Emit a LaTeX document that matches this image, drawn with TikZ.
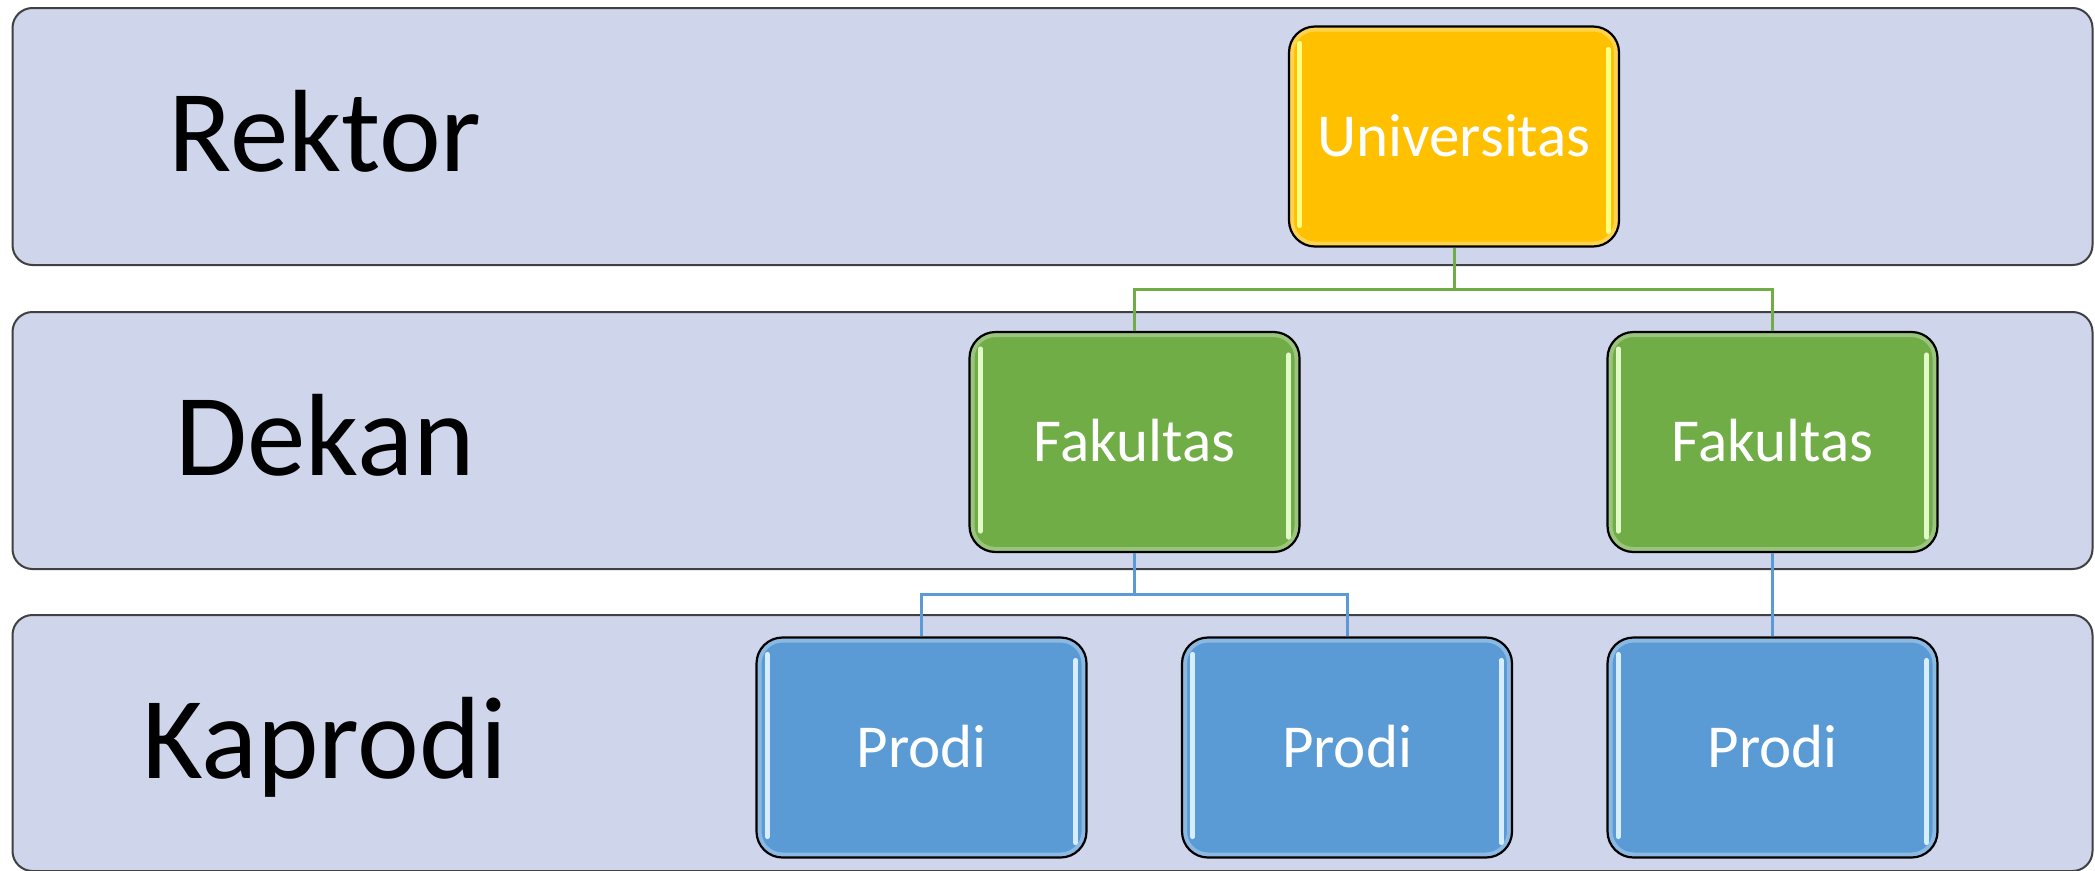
\documentclass[tikz,border=0pt]{standalone}
\usepackage{fontspec}
\setmainfont{Carlito}
\definecolor{bandfill}{HTML}{CFD5EA}
\definecolor{bandline}{HTML}{404040}
\definecolor{gold}{HTML}{FFC000}
\definecolor{leaf}{HTML}{70AD47}
\definecolor{sky}{HTML}{5B9BD5}
\definecolor{goldgloss}{HTML}{FFFF80}
\definecolor{leafgloss}{HTML}{E2FAC8}
\definecolor{skygloss}{HTML}{D6EEFF}
\tikzset{
  band/.style={draw=bandline, line width=2pt, fill=bandfill, rounded corners=20pt,
    minimum width=2080pt, minimum height=257pt, inner sep=0pt},
  unit/.style={draw=black, line width=2.2pt, rounded corners=26pt,
    minimum width=330pt, minimum height=220pt, inner sep=0pt, text=white,
    font=\fontsize{61}{72}\selectfont, text height=39pt, text depth=0pt,
    path picture={\draw[white, opacity=0.3, line width=10pt, rounded corners=26pt]
      (path picture bounding box.south west) rectangle (path picture bounding box.north east);}},
  rank/.style={font=\fontsize{117}{134}\selectfont, anchor=base, text=black, inner sep=0pt},
  gline/.style={draw=leaf, line width=3pt},
  bline/.style={draw=sky, line width=3pt},
  gloss/.style={line width=5pt, line cap=round}
}
\begin{document}
\begin{tikzpicture}[x=1pt, y=-1pt]
\useasboundingbox (0,0) rectangle (2095,870);
\fill[white] (0,0) rectangle (2095,870);
% bands
\node[band] (b1) at (1052.5,136.5) {};
\node[band] (b2) at (1052.5,440.5) {};
\node[band, minimum height=256pt] (b3) at (1052.5,743) {};
% rank labels
\node[rank] (r1) at (325,171) {Rektor};
\node[rank] (r2) at (325,475) {Dekan};
\node[rank] (r3) at (325,778) {Kaprodi};
% boxes
\node[unit, fill=gold] (u) at (1454,136.5) {Universitas};
\node[unit, fill=leaf] (f1) at (1134.5,442) {Fakultas};
\node[unit, fill=leaf] (f2) at (1772.5,442) {Fakultas};
\node[unit, fill=sky] (p1) at (921.5,747.5) {Prodi};
\node[unit, fill=sky] (p2) at (1347,747.5) {Prodi};
\node[unit, fill=sky] (p3) at (1772.5,747.5) {Prodi};
% gloss lines
\foreach \n/\c in {u/goldgloss, f1/leafgloss, f2/leafgloss, p1/skygloss, p2/skygloss, p3/skygloss} {
  \draw[gloss, draw=\c] ([xshift=12pt,yshift=-18pt]\n.north west) -- ([xshift=12pt,yshift=22pt]\n.south west);
  \draw[gloss, draw=\c] ([xshift=-12pt,yshift=-24pt]\n.north east) -- ([xshift=-12pt,yshift=16pt]\n.south east);
}
% connectors
\coordinate (gj) at (1454,289);
\coordinate (bj) at (1134.5,594);
\draw[gline] (u.south) -- (gj) -| (f1.north);
\draw[gline] (gj) -| (f2.north);
\draw[bline] (f1.south) -- (bj) -| (p1.north);
\draw[bline] (bj) -| (p2.north);
\draw[bline] (f2.south) -- (p3.north);
\end{tikzpicture}
\end{document}
